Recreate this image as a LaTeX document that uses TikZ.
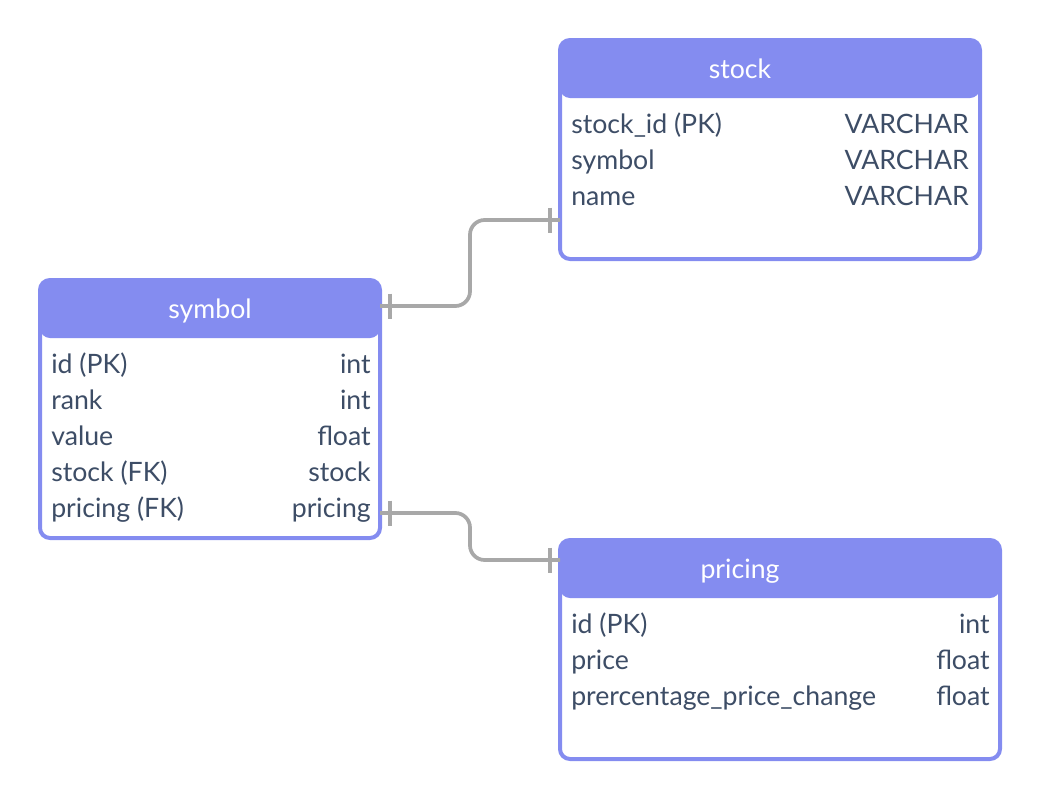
\documentclass[tikz,border=0pt]{standalone}
\usepackage{fontspec}
\setmainfont{Lato}
\definecolor{hdr}{HTML}{848CF0}
\definecolor{txt}{HTML}{3D4D66}
\definecolor{conn}{HTML}{A8A8A8}
\begin{document}
\begin{tikzpicture}[x=0.75pt,y=-0.75pt,
  tbl/.style={draw=hdr, line width=3pt, fill=white, rounded corners=7.5pt,
    inner sep=0pt, outer sep=0pt,
    path picture={\fill[hdr] (path picture bounding box.north west) rectangle ([yshift=-43.5pt]path picture bounding box.north east);}},
  title/.style={text=white, anchor=base, inner sep=0pt, font=\fontsize{20}{24}\selectfont},
  fld/.style={text=txt, anchor=base west, inner sep=0pt, font=\fontsize{20}{24}\selectfont},
  typ/.style={text=txt, anchor=base east, inner sep=0pt, font=\fontsize{20}{24}\selectfont},
  link/.style={draw=conn, line width=2.8pt, rounded corners=11pt},
  tick/.style={draw=conn, line width=2.8pt}]
\useasboundingbox (0,0) rectangle (1040,800);

% tables
\node[tbl, minimum width=315pt, minimum height=164.25pt] (stock) at (770,149.5) {};
\node[tbl, minimum width=255pt, minimum height=193.5pt] (symbol) at (210,409) {};
\node[tbl, minimum width=330pt, minimum height=164.25pt] (pricing) at (780,649.5) {};

% stock
\node[title] (stockT) at (740,78) {stock};
\node[fld] (st1) at (571,133) {stock\_id (PK)};
\node[typ] (st1t) at (969,133) {VARCHAR};
\node[fld] (st2) at (571,169) {symbol};
\node[typ] (st2t) at (969,169) {VARCHAR};
\node[fld] (st3) at (571,205) {name};
\node[typ] (st3t) at (969,205) {VARCHAR};

% symbol
\node[title] (symT) at (210,318) {symbol};
\node[fld] (sy1) at (51,373) {id (PK)};
\node[typ] (sy1t) at (371,373) {int};
\node[fld] (sy2) at (51,409) {rank};
\node[typ] (sy2t) at (371,409) {int};
\node[fld] (sy3) at (51,445) {value};
\node[typ] (sy3t) at (371,445) {float};
\node[fld] (sy4) at (51,481) {stock (FK)};
\node[typ] (sy4t) at (371,481) {stock};
\node[fld] (sy5) at (51,517) {pricing (FK)};
\node[typ] (sy5t) at (371,517) {pricing};

% pricing
\node[title] (prT) at (740,578) {pricing};
\node[fld] (pr1) at (571,633) {id (PK)};
\node[typ] (pr1t) at (990,633) {int};
\node[fld] (pr2) at (571,669) {price};
\node[typ] (pr2t) at (990,669) {float};
\node[fld] (pr3) at (571,705) {prercentage\_price\_change};
\node[typ] (pr3t) at (990,705) {float};

% connector ends
\coordinate (a1) at (symbol.east |- 0,306);
\coordinate (b1) at (stock.west |- 0,220);
\coordinate (a2) at (symbol.east |- 0,513);
\coordinate (b2) at (pricing.west |- 0,560);

\draw[link] (a1) -- (470,306) -- (470,220) -- (b1);
\draw[link] (a2) -- (470,513) -- (470,560) -- (b2);
\draw[tick] ([xshift=7.5pt]a1) ++(0,-12.5) -- ++(0,25);
\draw[tick] ([xshift=-7.5pt]b1) ++(0,-12.5) -- ++(0,25);
\draw[tick] ([xshift=7.5pt]a2) ++(0,-12.5) -- ++(0,25);
\draw[tick] ([xshift=-7.5pt]b2) ++(0,-12.5) -- ++(0,25);
\end{tikzpicture}
\end{document}
